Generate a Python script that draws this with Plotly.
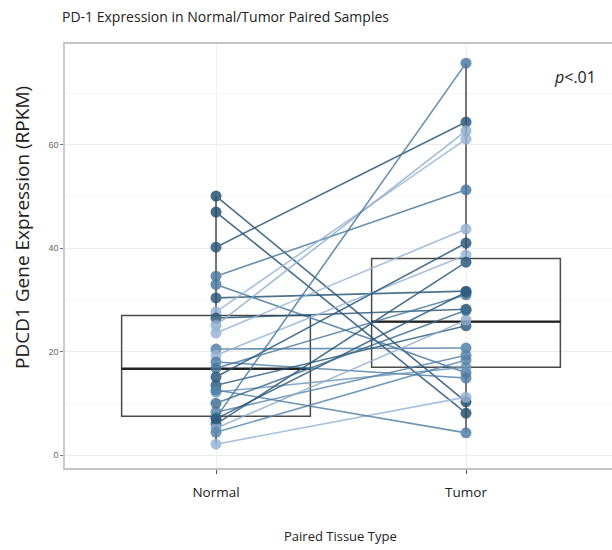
import plotly.graph_objects as go
import plotly.colors as pc

# ---- data ----
groups = ["Normal", "Tumor"]
normal_vals = [50.1, 47.0, 40.2, 34.6, 33.0, 30.4, 27.7, 26.5, 25.1, 23.6, 20.5, 19.3, 18.0,
               16.8, 15.1, 13.5, 12.2, 8.3, 7.2, 6.0, 5.2, 4.4, 2.1, 12.6, 7.0, 10.0]
tumor_vals = [10.3, 8.1, 64.4, 51.3, 15.9, 31.7, 61.1, 28.2, 62.7, 43.7, 20.7, 38.7, 14.9,
              31.0, 41.0, 25.0, 17.0, 19.3, 75.8, 37.3, 26.1, 18.4, 11.2, 4.3, 31.5, 28.0]
shade = [0.95, 0.95, 0.9, 0.6, 0.6, 0.9, 0.1, 0.9, 0.15, 0.1, 0.55, 0.1, 0.55,
         0.6, 0.9, 0.85, 0.35, 0.5, 0.6, 0.9, 0.15, 0.5, 0.1, 0.55, 0.85, 0.7]
box_q1 = [7.5, 17.0]
box_median = [16.7, 25.8]
box_q3 = [27.0, 38.0]
box_low = [2.1, 4.3]
box_high = [50.1, 75.8]
y_ticks = [0, 20, 40, 60]

xpos = [1, 2]
colorscale = [[0, "#a6bfdf"], [0.5, "#5484aa"], [1, "#1a4868"]]

fig = go.Figure()

# boxes
fig.add_trace(go.Box(
    x=xpos, q1=box_q1, median=box_median, q3=box_q3,
    lowerfence=box_low, upperfence=box_high,
    width=0.755, whiskerwidth=0, fillcolor="rgba(255,255,255,0)",
    line=dict(color="#4a4a4a", width=1.5), boxpoints=False,
    hoverinfo="skip", showlegend=False))
# thicker median lines
hw = 0.755 / 2
for xi, m in zip(xpos, box_median):
    fig.add_trace(go.Scatter(x=[xi - hw, xi + hw], y=[m, m], mode="lines",
                             line=dict(color="#222222", width=2.4),
                             showlegend=False, hoverinfo="skip"))

for n, t, s in zip(normal_vals, tumor_vals, shade):
    col = pc.sample_colorscale(colorscale, [s])[0]
    fig.add_trace(go.Scatter(
        x=xpos, y=[n, t], mode="lines+markers",
        line=dict(color=col, width=1.6),
        marker=dict(color=col, size=11),
        opacity=0.82, showlegend=False))

fig.update_layout(
    width=612, height=550,
    margin=dict(l=65, r=0, t=44, b=82),
    plot_bgcolor="white", paper_bgcolor="white",
    font=dict(family="Open Sans", color="#222222"),
    title=dict(text="PD-1 Expression in Normal/Tumor Paired Samples",
               xref="container", x=62 / 612, xanchor="left",
               yref="container", y=1 - 17 / 550, yanchor="middle",
               font=dict(size=14, family="Open Sans", color="#222222")),
    xaxis=dict(range=[0.396, 2.584], tickvals=xpos, ticktext=groups,
               showgrid=True, gridcolor="#f2f2f2", gridwidth=1,
               zeroline=False, showline=True, mirror=True,
               linecolor="#c4c4c4", linewidth=1.5,
               ticks="outside", ticklen=4, tickcolor="#555555",
               ticklabelstandoff=7,
               tickfont=dict(size=13.5, family="Open Sans", color="#222222")),
    yaxis=dict(range=[-2.5, 79.5], tickvals=y_ticks,
               showgrid=True, gridcolor="#ececec", gridwidth=1,
               minor=dict(showgrid=True, gridcolor="#f5f5f5", dtick=10),
               zeroline=False, showline=True, mirror=False,
               linecolor="#cccccc", linewidth=1.5,
               ticks="outside", ticklen=3, tickcolor="#777777",
               tickfont=dict(size=9, family="Liberation Sans", color="#666666")),
    annotations=[
        dict(text="PDCD1 Gene Expression (RPKM)", textangle=-90,
             xref="paper", yref="paper", x=(22 - 65) / 547, y=(468 - 228) / 424,
             xanchor="center", yanchor="middle", showarrow=False,
             font=dict(size=19, family="Open Sans", color="#222222")),
        dict(text="Paired Tissue Type", xref="paper", yref="paper",
             x=(340 - 65) / 547, y=-(536 - 468) / 424,
             xanchor="center", yanchor="middle", showarrow=False,
             font=dict(size=13, family="Open Sans", color="#222222")),
        dict(text="<i>p</i>&lt;.01", xref="paper", yref="paper",
             x=(598 - 65) / 547, y=(468 - 77) / 424,
             xanchor="right", yanchor="middle", showarrow=False,
             font=dict(size=16, family="Open Sans", color="#222222")),
    ],
)

fig.write_html("out.html")
